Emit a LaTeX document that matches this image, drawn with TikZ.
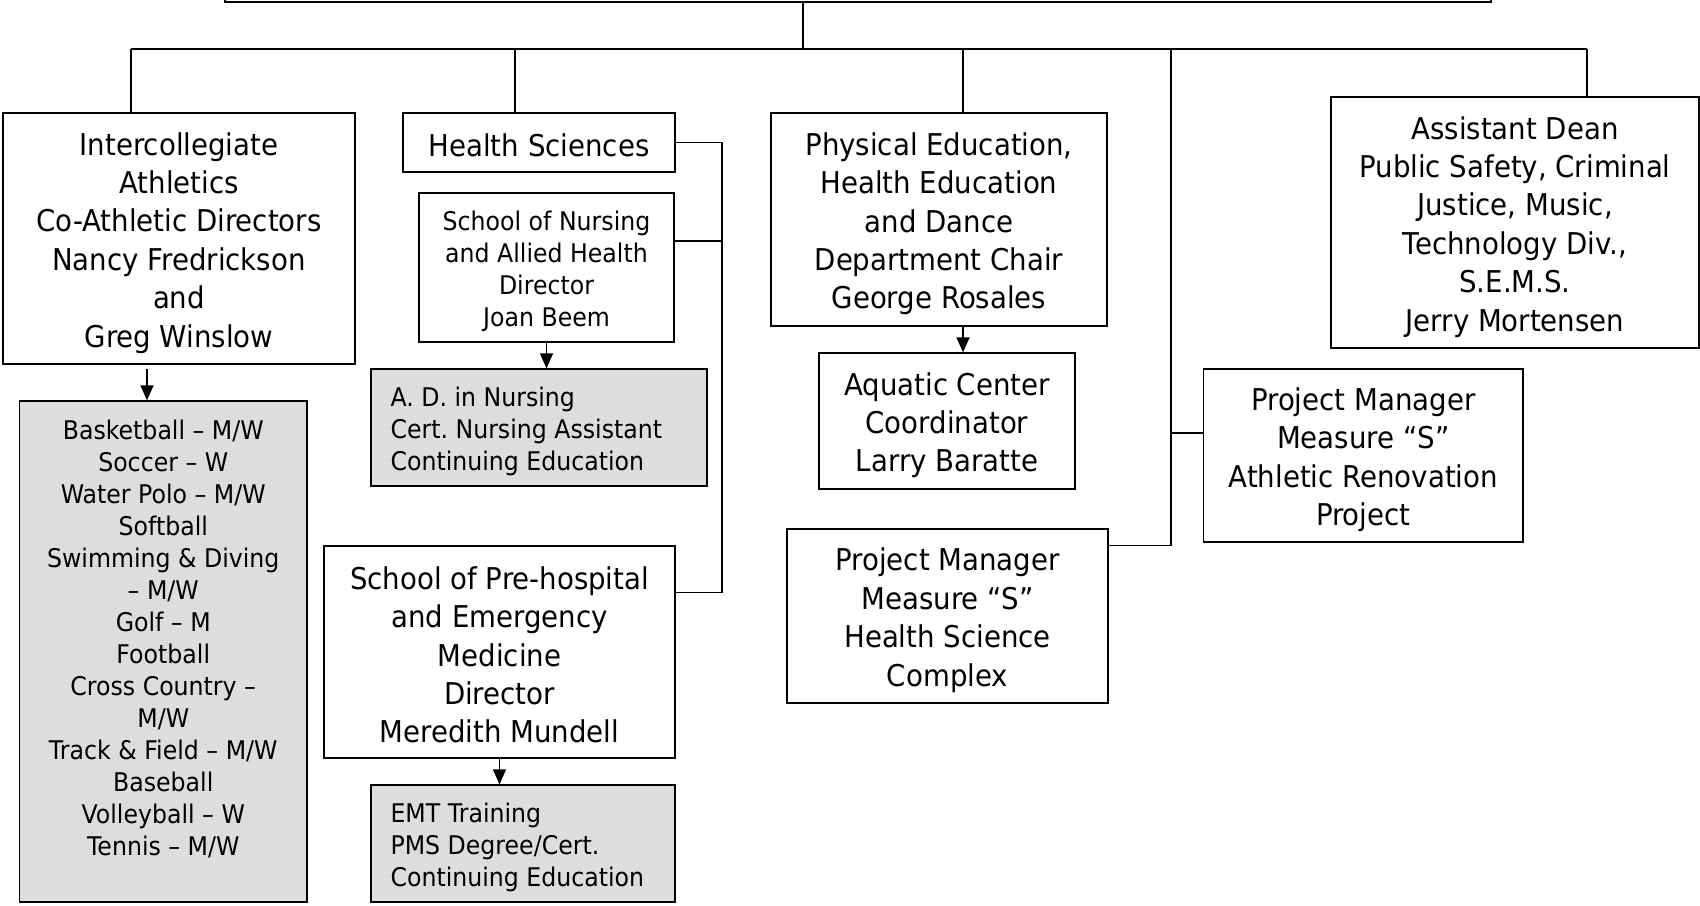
\documentclass[tikz,border=0pt]{standalone}
\usepackage{fontspec}
\setmainfont{DejaVu Sans}[FakeStretch=0.92]
\usetikzlibrary{arrows.meta,calc}
\definecolor{boxgray}{RGB}{221,221,221}
\newcommand{\bigfs}{\fontsize{30}{38.4}\selectfont}
\newcommand{\smallfs}{\fontsize{25.7}{32}\selectfont}
\frenchspacing
\begin{document}
\begin{tikzpicture}[x=1pt,y=-1pt,
  box/.style={draw, line width=1.3pt, inner sep=0pt},
  graybox/.style={box, fill=boxgray},
  bigtxt/.style={inner sep=0pt, align=center, font=\bigfs},
  smalltxt/.style={inner sep=0pt, align=center, font=\smallfs},
  lefttxt/.style={inner sep=0pt, align=left, font=\smallfs},
  link/.style={line width=1.3pt},
  arr/.style={line width=1.3pt, -{Triangle[length=15pt,width=13pt]}}]
\useasboundingbox (0,0) rectangle (1700,905);
\clip (0,0) rectangle (1700,905);

% boxes
\node[box, minimum width=1266pt, minimum height=62pt] (top) at (858,-29) {};
\node[box, minimum width=352pt, minimum height=251pt] (ica) at (179,238.5) {};
\node[box, minimum width=272pt, minimum height=59pt] (hs) at (539,142.5) {};
\node[box, minimum width=255pt, minimum height=149pt] (son) at (546.5,267.5) {};
\node[graybox, minimum width=336pt, minimum height=117pt] (adn) at (539,427.5) {};
\node[graybox, minimum width=287.5pt, minimum height=501pt] (sports) at (163.25,651.5) {};
\node[box, minimum width=351pt, minimum height=212pt] (pre) at (499.5,652) {};
\node[graybox, minimum width=304pt, minimum height=117pt] (emt) at (523,843.5) {};
\node[box, minimum width=336pt, minimum height=213pt] (pe) at (939,219.5) {};
\node[box, minimum width=256pt, minimum height=136pt] (aq) at (947,421) {};
\node[box, minimum width=368pt, minimum height=251pt] (ad) at (1515,222.5) {};
\node[box, minimum width=319.5pt, minimum height=173pt] (pmath) at (1363.25,455.5) {};
\node[box, minimum width=321pt, minimum height=174pt] (pmhs) at (947.5,616) {};

% texts
\node[bigtxt] (ica-t) at ([yshift=-4.3pt]ica.center)
  {Intercollegiate\\Athletics\\Co-Athletic Directors\\Nancy Fredrickson\\and\\Greg Winslow};
\node[bigtxt] (hs-t) at ([yshift=-3pt]hs.center) {Health Sciences};
\node[smalltxt] (son-t) at ([yshift=-4pt]son.center)
  {School of Nursing\\and Allied Health\\Director\\Joan Beem};
\node[lefttxt, anchor=west] (adn-t) at ([xshift=20pt,yshift=-4pt]adn.west)
  {A. D. in Nursing\\Cert. Nursing Assistant\\Continuing Education};
\node[smalltxt] (sports-t) at ([yshift=13pt]sports.center)
  {Basketball – M/W\\Soccer – W\\Water Polo – M/W\\Softball\\Swimming \& Diving\\– M/W\\Golf – M\\Football\\Cross Country –\\M/W\\Track \& Field – M/W\\Baseball\\Volleyball – W\\Tennis – M/W};
\node[bigtxt] (pre-t) at ([yshift=-3pt]pre.center)
  {School of Pre-hospital\\and Emergency\\Medicine\\Director\\Meredith Mundell};
\node[lefttxt, anchor=west] (emt-t) at ([xshift=20pt,yshift=-4pt]emt.west)
  {EMT Training\\PMS Degree/Cert.\\Continuing Education};
\node[bigtxt] (pe-t) at ([yshift=-4.3pt]pe.center)
  {Physical Education,\\Health Education\\and Dance\\Department Chair\\George Rosales};
\node[bigtxt] (aq-t) at ([yshift=-4.3pt]aq.center)
  {Aquatic Center\\Coordinator\\Larry Baratte};
\node[bigtxt] (ad-t) at ([yshift=-4.3pt]ad.center)
  {Assistant Dean\\Public Safety, Criminal\\Justice, Music,\\Technology Div.,\\S.E.M.S.\\Jerry Mortensen};
\node[bigtxt] (pmath-t) at ([yshift=-4.3pt]pmath.center)
  {Project Manager\\Measure “S”\\Athletic Renovation\\Project};
\node[bigtxt] (pmhs-t) at ([yshift=-4.3pt]pmhs.center)
  {Project Manager\\Measure “S”\\Health Science\\Complex};

% connector points
\coordinate (busL) at (131,49);
\coordinate (busR) at (1587,49);
\coordinate (topdrop) at (803,49);
\coordinate (hsdrop) at (515,49);
\coordinate (pedrop) at (963,49);
\coordinate (pmdrop) at (1171,49);
\coordinate (hsx) at (722,0);
\coordinate (prejoin) at ([yshift=-47pt]pre.north east);
\coordinate (sonjoin) at ([yshift=26.5pt]son.east);
\coordinate (pmhsjoin) at ([yshift=-17pt]pmhs.north east);
\coordinate (pmathjoin) at ([yshift=22.5pt]pmath.west);
\coordinate (icaarr) at ([xshift=-32pt,yshift=-4pt]ica.south);
\coordinate (pearr) at ([xshift=24pt]pe.south);

% connectors
\draw[link] (busL) -- (busR);
\draw[link] (topdrop |- top.south) -- (topdrop);
\draw[link] (busL) -- (busL |- ica.north);
\draw[link] (hsdrop) -- (hsdrop |- hs.north);
\draw[link] (pedrop) -- (pedrop |- pe.north);
\draw[link] (busR) -- (busR |- ad.north);
\draw[link] (pmdrop) |- (pmhsjoin);
\draw[link] (pmathjoin) -- (pmathjoin -| pmdrop);
\draw[link] (hs.east) -| (hsx |- prejoin) -- (prejoin);
\draw[link] (sonjoin) -- (sonjoin -| hsx);

% arrows
\draw[arr] (icaarr) -- (icaarr |- sports.north);
\draw[arr] (son.south) -- (son.south |- adn.north);
\draw[arr] (pre.south) -- (pre.south |- emt.north);
\draw[arr] (pearr) -- (pearr |- aq.north);
\end{tikzpicture}
\end{document}
